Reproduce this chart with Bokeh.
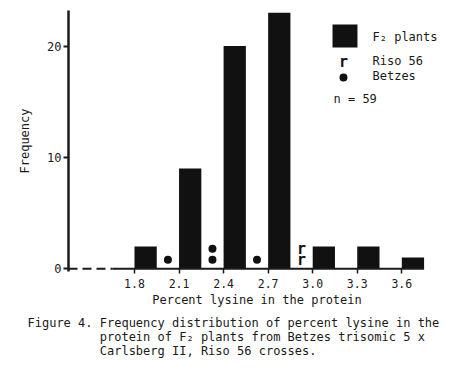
from bokeh.plotting import figure
from bokeh.models import Range1d, FixedTicker, PrintfTickFormatter, Label, ColumnDataSource, Title
from bokeh.core.properties import value
from bokeh.embed import file_html
from bokeh.resources import INLINE

# ---- data ----
lysine_bins = [1.8, 2.1, 2.4, 2.7, 3.0, 3.3, 3.6]
frequency = [2, 9, 20, 23, 2, 2, 1]
bin_width = 0.15

betzes_x = [2.025, 2.325, 2.325, 2.625]
betzes_y = [0.8, 0.8, 1.8, 0.8]
riso_x = [2.925, 2.925]
riso_y = [0.8, 1.8]

x_ticks = [1.8, 2.1, 2.4, 2.7, 3.0, 3.3, 3.6]
y_ticks = [0, 10, 20]

legend_labels = ["F₂ plants", "Riso 56", "Betzes"]
sample_note = "n = 59"
x_title = "Percent lysine in the protein"
y_title = "Frequency"
caption_tag = "Figure 4."
caption_lines = [
    "Frequency distribution of percent lysine in the",
    "protein of F₂ plants from Betzes trisomic 5 x",
    "Carlsberg II, Riso 56 crosses.",
]

FONT = "DejaVu Sans Mono"
INK = "#1a1a1a"
BAR = "#111111"
FRAME_LEFT = 68

p = figure(width=463, height=378, output_backend="svg", toolbar_location=None,
           x_range=Range1d(1.3556, 3.8943), y_range=Range1d(-0.25, 23.2),
           min_border_left=FRAME_LEFT, min_border_right=18, min_border_top=10, min_border_bottom=107)
p.background_fill_color = "white"
p.border_fill_color = "white"
p.outline_line_color = None
p.xgrid.visible = False
p.ygrid.visible = False

# bars
src = ColumnDataSource(dict(x=[b + bin_width / 2 for b in lysine_bins], top=frequency))
p.vbar(x="x", top="top", bottom=0, width=bin_width, source=src,
       fill_color=BAR, line_color=None)

# baseline (solid across the bins, dashed toward the axis)
x0 = min(lysine_bins) - bin_width
x1 = max(lysine_bins) + bin_width
p.line([x0, x1], [0, 0], line_color=INK, line_width=2)
p.line([p.x_range.start, x0], [0, 0], line_color=INK, line_width=2, line_dash="9 5")

# parent markers
p.scatter(betzes_x, betzes_y, marker="circle", size=8, fill_color=BAR, line_color=None)
p.text(riso_x, riso_y, text=["r"] * len(riso_x), text_font=value(FONT), text_font_style="bold",
       text_font_size="15px", text_align="center", text_baseline="middle", text_color=BAR)

# axes
xa = p.xaxis[0]
xa.ticker = FixedTicker(ticks=x_ticks)
xa.formatter = PrintfTickFormatter(format="%.1f")
xa.axis_line_color = None
xa.major_tick_in = 3
xa.major_tick_out = 2
xa.major_tick_line_width = 1.5
xa.major_tick_line_color = INK
xa.minor_tick_line_color = None
xa.major_label_text_font = FONT
xa.major_label_text_font_size = "11.5px"
xa.major_label_text_color = INK
xa.major_label_standoff = 5
xa.axis_label = x_title
xa.axis_label_text_font = FONT
xa.axis_label_text_font_size = "12px"
xa.axis_label_text_font_style = "normal"
xa.axis_label_text_color = INK
xa.axis_label_standoff = 2

ya = p.yaxis[0]
ya.ticker = FixedTicker(ticks=y_ticks)
ya.axis_line_width = 2.5
ya.axis_line_color = INK
ya.major_tick_in = 0
ya.major_tick_out = 5
ya.major_tick_line_width = 2
ya.major_tick_line_color = INK
ya.minor_tick_line_color = None
ya.major_label_text_font = FONT
ya.major_label_text_font_size = "12px"
ya.major_label_text_color = INK
ya.major_label_standoff = 2
ya.axis_label = y_title
ya.axis_label_text_font = FONT
ya.axis_label_text_font_size = "12px"
ya.axis_label_text_font_style = "normal"
ya.axis_label_text_color = INK
ya.axis_label_standoff = 12

# legend glyphs (data coordinates)
p.rect([3.2175], [20.91], width=0.168, height=2.07, fill_color=BAR, line_color=None)
p.text([3.2074], [18.53], text=["r"], text_font=value(FONT), text_font_style="bold",
       text_font_size="15px", text_align="center", text_baseline="middle", text_color=BAR)
p.scatter([3.2074], [17.18], marker="circle", size=8, fill_color=BAR, line_color=None)


def lab(text, x, y):
    p.add_layout(Label(x=x, y=y, x_units="screen", y_units="screen", text=text,
                       text_font=FONT, text_font_size="12px", text_color=INK,
                       text_align="left", text_baseline="middle"))


# legend texts (screen units relative to the frame's bottom-left)
lab(legend_labels[0], 304, 235)
lab(legend_labels[1], 304, 211)
lab(legend_labels[2], 304, 196)
lab(sample_note, 265, 173)

# caption: one multi-line title below the x axis (monospace, non-breaking indent)
NBSP = "\u00a0"
prefix = caption_tag + NBSP
indent = NBSP * len(prefix)
caption_rows = [prefix + caption_lines[0]] + [indent + t for t in caption_lines[1:]]
p.add_layout(Title(text="\n".join(caption_rows), align="left", offset=27 - FRAME_LEFT,
                   text_font=FONT, text_font_size="12px", text_font_style="normal",
                   text_color=INK, text_line_height=1.0, standoff=8), "below")

open("out.html", "w").write(file_html(p, INLINE))
